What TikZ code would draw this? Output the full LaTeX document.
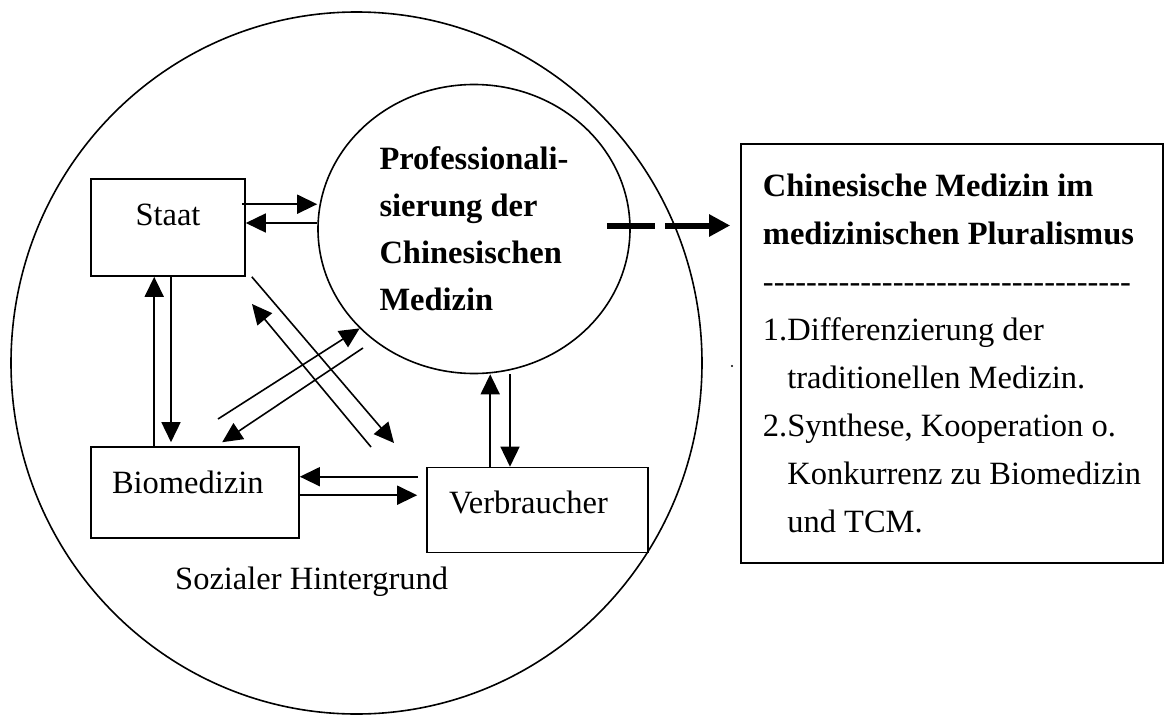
\documentclass[tikz,border=0pt]{standalone}
\usepackage{fontspec}
\setmainfont{Liberation Serif}
\usepackage{tikz}
\usetikzlibrary{shapes.geometric, arrows.meta, positioning, calc}

\newcommand{\dashrow}{\foreach \k in {1,...,34}{\mbox{-}}}

\tikzset{
    box/.style={draw, rectangle, line width=1.6pt, inner ysep=0pt, text height=46pt},
    arr/.style={-{Triangle[length=20pt,width=19pt]}, line width=1.6pt},
    bigarr/.style={-{Triangle[length=21pt,width=21pt]}, line width=6pt, dash pattern=on 48pt off 10pt}
}

\begin{document}
\begin{tikzpicture}[x=1pt, y=-1pt, font=\fontsize{32.5pt}{48pt}\selectfont]
        \useasboundingbox (0,0) rectangle (1164,717);

        \node (umfeld) [draw, ellipse, line width=1.6pt, minimum width=691pt, minimum height=702pt] at (356.5,363) {};
        \node (umfeldtext) [anchor=base west, inner sep=0pt] at (175,589) {Sozialer Hintergrund};

        \node (prof) [draw, ellipse, line width=1.6pt, minimum width=312pt, minimum height=289pt, align=left, font=\fontsize{32.5pt}{47pt}\selectfont\bfseries] at (474,229) {Professionali-\\sierung der\\Chinesischen\\Medizin};

        \node (staat) [box, minimum width=154pt, text depth=51pt] at (168,227.5) {Staat};
        \node (bio) [box, inner xsep=21pt, text width=166pt, align=left, text depth=45pt] at (195,492.5) {Biomedizin};
        \node (verb) [box, inner xsep=22pt, text width=177pt, align=left, text depth=39pt] at (537.5,510) {Verbraucher};

        \node (result) [draw, rectangle, line width=1.6pt, minimum width=422pt, minimum height=419pt, align=left] at (952,353.5) {\textbf{Chinesische Medizin im}\\\textbf{medizinischen Pluralismus}\\\dashrow\\1.Differenzierung der\\\phantom{1.}traditionellen Medizin.\\2.Synthese, Kooperation o.\\\phantom{2.}Konkurrenz zu Biomedizin\\\phantom{2.}und TCM.};

        % Staat <-> Professionalisierung
        \coordinate (s1) at ($(staat.north east)+(-4,26)$);
        \coordinate (p1) at ($(prof.west)+(0,-6)$);
        \draw[arr] (s1) -- (s1 -| prof.west);
        \draw[arr] (p1) -- (p1 -| staat.east);

        % Staat <-> Biomedizin
        \coordinate (s2) at ($(staat.south)+(3,0)$);
        \coordinate (b1) at ($(bio.north west)+(64,0)$);
        \draw[arr] (s2) -- ($(s2 |- bio.north)+(0,-4)$);
        \draw[arr] (b1) -- (b1 |- staat.south);

        % Biomedizin <-> Verbraucher
        \coordinate (v1) at ($(verb.north west)+(-8,10)$);
        \coordinate (b2) at ($(bio.north east)+(0,49)$);
        \draw[arr] (v1) -- (v1 -| bio.east);
        \draw[arr, shorten >=9pt] (b2) -- (b2 -| verb.west);

        % Verbraucher <-> Professionalisierung
        \coordinate (v2) at ($(verb.north west)+(64,0)$);
        \coordinate (p2) at ($(prof.south)+(36,0)$);
        \draw[arr] (v2) -- (v2 |- prof.south);
        \draw[arr] (p2) -- (p2 |- verb.north);

        % Staat <-> Verbraucher
        \coordinate (d1a) at ($(staat.south east)+(6,0)$);
        \coordinate (d1b) at (394,443);
        \coordinate (d2a) at (371,447);
        \coordinate (d2b) at (252,304);
        \draw[arr] (d1a) -- (d1b);
        \draw[arr] (d2a) -- (d2b);

        % Biomedizin <-> Professionalisierung
        \coordinate (d3a) at (218,419);
        \coordinate (d4a) at (363,348);
        \coordinate (d4b) at ($(bio.north west)+(132,-4)$);
        \draw[arr] (d3a) -- (prof.221);
        \draw[arr] (d4a) -- (d4b);

        % Ergebnis
        \coordinate (e1) at ($(prof.east)+(-24,-3.5)$);
        \draw[bigarr, shorten >=10pt] (e1) -- (e1 -| result.west);

        \fill (732,366) circle (1.2pt);
    \end{tikzpicture}
\end{document}
